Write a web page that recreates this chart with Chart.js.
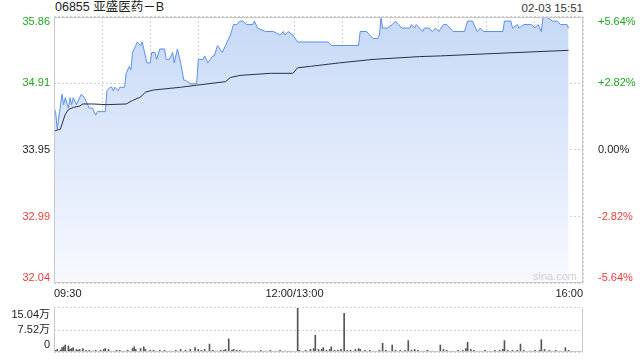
<!DOCTYPE html>
<html lang="zh">
<head>
  <meta charset="UTF-8" />
  <title>06855 亚盛医药－B 分时</title>
  <script src="https://cdn.jsdelivr.net/npm/chart.js"></script>
  <style>
    body {
      margin: 0;
      width: 640px;
      height: 360px;
      overflow: hidden;
      position: relative;
      background: #fff;
      font-family: "Liberation Sans", Arial, "Noto Sans CJK SC", sans-serif;
    }
    .title {
      position: absolute;
      left: 55px;
      top: 0;
      line-height: 15px;
      font-size: 12.5px;
      color: #222;
    }
    .stamp {
      position: absolute;
      right: 57px;
      top: 0;
      line-height: 16px;
      font-size: 11.5px;
      color: #333;
    }
    #priceBox { position: absolute; left: 0; top: 0; width: 640px; height: 300px; }
    #volBox { position: absolute; left: 0; top: 290px; width: 640px; height: 80px; }
  </style>
</head>
<body>

<div class="title">06855 亚盛医药－B</div>
<div class="stamp">02-03 15:51</div>
<div id="priceBox"><canvas id="priceChart"></canvas></div>
<div id="volBox"><canvas id="volChart"></canvas></div>

<script>
  // minutes since 09:30 (lunch break removed, 12:00/13:00 = 150, 16:00 = 330)
  const prevClose = 33.95;

  const priceMinutes = [0, 1, 2, 5, 6, 7, 9, 10, 11, 12, 14, 16, 17, 19, 21, 22, 24, 26, 27, 30,
    32, 33, 35, 36, 37, 38, 40, 41, 44, 45, 47, 48, 49, 51, 52, 54, 55, 56, 58, 60,
    61, 63, 64, 66, 69, 70, 72, 74, 75, 77, 79, 81, 82, 85, 89, 90, 93, 94, 96, 99,
    100, 102, 105, 107, 110, 112, 114, 116, 118, 120, 124, 125, 127, 132, 137, 141, 143, 144, 146, 149,
    152, 171, 173, 190, 191, 195, 197, 199, 202, 203, 204, 205, 208, 211, 213, 215, 217, 222, 223, 225,
    226, 228, 230, 231, 234, 236, 238, 240, 243, 245, 247, 249, 256, 258, 261, 263, 264, 266, 268, 280,
    281, 285, 286, 289, 290, 293, 298, 300, 302, 304, 305, 308, 311, 314, 316, 320, 321];
  const priceValues = [34.55, 34.50, 34.25, 34.75, 34.60, 34.70, 34.55, 34.70, 34.60, 34.70, 34.60, 34.70, 34.75, 34.70, 34.60, 34.55, 34.55, 34.45, 34.50, 34.50,
    34.50, 34.80, 34.85, 34.85, 34.80, 34.85, 34.80, 34.85, 34.85, 35.05, 35.15, 35.10, 35.35, 35.45, 35.50, 35.45, 35.50, 35.40, 35.20, 35.20,
    35.35, 35.35, 35.25, 35.40, 35.40, 35.25, 35.25, 35.35, 35.20, 35.40, 35.20, 34.95, 34.95, 34.90, 34.90, 35.25, 35.25, 35.30, 35.20, 35.30,
    35.30, 35.45, 35.35, 35.45, 35.60, 35.75, 35.75, 35.80, 35.80, 35.75, 35.75, 35.80, 35.70, 35.65, 35.65, 35.60, 35.65, 35.60, 35.65, 35.60,
    35.50, 35.50, 35.45, 35.45, 35.65, 35.65, 35.60, 35.55, 35.55, 35.60, 35.85, 35.70, 35.70, 35.75, 35.80, 35.75, 35.70, 35.70, 35.75, 35.70,
    35.75, 35.70, 35.65, 35.70, 35.70, 35.65, 35.70, 35.65, 35.75, 35.75, 35.70, 35.65, 35.65, 35.80, 35.80, 35.70, 35.65, 35.70, 35.65, 35.65,
    35.80, 35.80, 35.70, 35.75, 35.70, 35.75, 35.75, 35.70, 35.75, 35.65, 35.85, 35.85, 35.80, 35.80, 35.75, 35.75, 35.70];

  const avgMinutes = [0, 4, 7, 9, 12, 16, 18, 24, 33, 45, 49, 54, 57, 62, 79, 89, 107, 110, 116, 135,
    149, 152, 160, 178, 199, 228, 241, 270, 321];
  const avgValues = [34.22, 34.25, 34.46, 34.53, 34.56, 34.58, 34.61, 34.61, 34.60, 34.61, 34.66, 34.71, 34.78, 34.81, 34.85, 34.88, 34.93, 34.99, 35.02, 35.05,
    35.05, 35.13, 35.15, 35.20, 35.25, 35.29, 35.30, 35.33, 35.38];

  const volMinutes = [1, 2, 4, 5, 6, 7, 9, 10, 11, 12, 14, 15, 16, 18, 20, 22, 24, 26, 29, 31,
    32, 34, 36, 39, 41, 44, 46, 49, 50, 51, 54, 56, 57, 60, 62, 64, 66, 69, 72, 76,
    79, 82, 85, 88, 90, 92, 94, 97, 99, 101, 104, 106, 107, 109, 111, 112, 114, 116, 119, 122,
    125, 129, 132, 135, 138, 141, 144, 147, 152, 153, 157, 160, 162, 163, 165, 167, 168, 170, 172, 173,
    175, 177, 179, 181, 183, 185, 188, 190, 191, 194, 197, 200, 203, 205, 207, 211, 213, 216, 219, 221,
    223, 225, 227, 230, 233, 236, 241, 243, 245, 248, 252, 255, 257, 258, 260, 262, 266, 269, 272, 275,
    278, 280, 281, 283, 286, 289, 291, 293, 297, 300, 303, 304, 306, 309, 313, 316, 319, 321];
  const volValues = [6000, 9000, 6000, 15000, 18000, 24000, 21000, 9000, 12000, 15000, 9000, 6000, 9000, 12000, 6000, 6000, 3000, 6000, 6000, 9000,
    12000, 9000, 3000, 6000, 6000, 3000, 6000, 12000, 18000, 9000, 12000, 18000, 9000, 6000, 6000, 3000, 6000, 6000, 3000, 6000,
    9000, 6000, 9000, 15000, 9000, 6000, 9000, 27000, 6000, 3000, 6000, 6000, 9000, 45000, 6000, 9000, 6000, 6000, 3000, 3000,
    3000, 6000, 3000, 6000, 3000, 6000, 3000, 3000, 150000, 6000, 6000, 9000, 12000, 57000, 9000, 9000, 15000, 6000, 9000, 18000,
    6000, 6000, 9000, 132000, 6000, 6000, 9000, 12000, 9000, 6000, 6000, 3000, 6000, 30000, 6000, 24000, 6000, 6000, 6000, 39000,
    6000, 9000, 6000, 3000, 6000, 3000, 24000, 9000, 6000, 3000, 6000, 6000, 12000, 33000, 9000, 6000, 3000, 6000, 3000, 6000,
    6000, 9000, 39000, 6000, 6000, 6000, 27000, 6000, 3000, 6000, 6000, 42000, 9000, 6000, 6000, 3000, 15000, 6000];

  const xTicks = [0, 30, 60, 90, 120, 150, 180, 210, 240, 270, 300, 330];
  const xTickLabels = ['09:30', '', '', '', '', '12:00/13:00', '', '', '', '', '', '16:00'];
  const priceTicks = [32.04, 32.99, 33.95, 34.91, 35.86];
  const priceTickLabels = ['32.04', '32.99', '33.95', '34.91', '35.86'];
  const pctTicks = [-5.64, -2.82, 0, 2.82, 5.64];
  const pctTickLabels = ['-5.64%', '-2.82%', '0.00%', '+2.82%', '+5.64%'];
  const volTicks = [0, 75200, 150400];
  const volTickLabels = ['0', '7.52万', '15.04万'];

  Chart.defaults.font.family = '"Liberation Sans", Arial, "Noto Sans CJK SC", sans-serif';
  Chart.defaults.font.size = 11;

  const GRID = '#d2d2d2';
  const UP = '#1ea51e', DOWN = '#f23a3a', FLAT = '#222';

  function signColor(d) {
    if (d > 0.0001) return UP;
    if (d < -0.0001) return DOWN;
    return FLAT;
  }

  // push the first/last label inside the plot, like the original
  function edgeLabel(text, i, n) {
    if (i === 0) return [text, ''];
    if (i === n - 1) return ['', text];
    return text;
  }

  const framePlugin = {
    id: 'frame',
    afterDraw(chart, args, opts) {
      const a = chart.chartArea, ctx = chart.ctx;
      const L = Math.round(a.left) + 0.5, R = Math.round(a.right) - 0.5;
      const T = Math.round(a.top) + 0.5, B = Math.round(a.bottom) - 0.5;
      ctx.save();
      ctx.strokeStyle = opts.color || '#ccc';
      ctx.lineWidth = 1;
      ctx.beginPath();
      opts.sides.forEach(s => {
        if (s === 'top') { ctx.moveTo(L, T); ctx.lineTo(R, T); }
        if (s === 'bottom') { ctx.moveTo(L, B); ctx.lineTo(R, B); }
        if (s === 'left') { ctx.moveTo(L, T); ctx.lineTo(L, B); }
        if (s === 'right') { ctx.moveTo(R, T); ctx.lineTo(R, B); }
      });
      ctx.stroke();
      if (opts.mark) {
        ctx.fillStyle = '#cfcfcf';
        ctx.font = '11px "Liberation Sans", Arial, sans-serif';
        ctx.textAlign = 'right';
        ctx.textBaseline = 'middle';
        ctx.fillText(opts.mark, a.right - 6, a.bottom - 6);
      }
      ctx.restore();
    }
  };

  const priceData = priceMinutes.map((m, i) => ({ x: m, y: priceValues[i] }));
  const avgData = avgMinutes.map((m, i) => ({ x: m, y: avgValues[i] }));

  new Chart(document.getElementById('priceChart'), {
    type: 'line',
    data: {
      datasets: [
        {
          label: '均价',
          data: avgData,
          borderColor: '#2a3142',
          borderWidth: 1,
          pointRadius: 0,
          fill: false
        },
        {
          label: '价格',
          data: priceData,
          borderColor: '#5b8ff0',
          borderWidth: 1,
          pointRadius: 0,
          fill: 'start',
          backgroundColor(c) {
            const a = c.chart.chartArea;
            if (!a) return 'rgba(200,218,248,0.6)';
            const g = c.chart.ctx.createLinearGradient(0, a.top, 0, a.bottom);
            g.addColorStop(0, '#c7d9f7');
            g.addColorStop(1, '#f7f9fe');
            return g;
          }
        }
      ]
    },
    options: {
      responsive: true,
      maintainAspectRatio: false,
      animation: false,
      layout: { padding: { top: 15, left: 0, right: 0, bottom: 0 } },
      plugins: {
        legend: { display: false },
        tooltip: { enabled: false },
        frame: { sides: ['top', 'right', 'bottom', 'left'], color: '#c8c8c8', mark: 'sina.com' }
      },
      scales: {
        x: {
          type: 'linear',
          min: 0,
          max: 330,
          afterBuildTicks: s => { s.ticks = xTicks.map(v => ({ value: v })); },
          afterFit: s => { s.height = 17; },
          grid: { color: GRID, drawTicks: false },
          border: { display: false, dash: [2, 2] },
          ticks: {
            autoSkip: false,
            maxRotation: 0,
            align: 'inner',
            padding: 4,
            color: '#222',
            callback: (v, i) => xTickLabels[i]
          }
        },
        y: {
          position: 'left',
          min: priceTicks[0],
          max: priceTicks[priceTicks.length - 1],
          afterBuildTicks: s => { s.ticks = priceTicks.map(v => ({ value: v })); },
          afterFit: s => { s.width = 54; },
          grid: { color: GRID, drawTicks: false },
          border: { display: false, dash: [2, 2] },
          ticks: {
            autoSkip: false,
            padding: 4,
            font: { size: 11, lineHeight: 0.9 },
            color: c => signColor(priceTicks[c.index] - prevClose),
            callback: (v, i) => edgeLabel(priceTickLabels[i], i, priceTicks.length)
          }
        },
        y1: {
          position: 'right',
          min: pctTicks[0],
          max: pctTicks[pctTicks.length - 1],
          afterBuildTicks: s => { s.ticks = pctTicks.map(v => ({ value: v })); },
          afterFit: s => { s.width = 57; },
          grid: { display: false },
          border: { display: false },
          ticks: {
            autoSkip: false,
            padding: 7,
            font: { size: 11, lineHeight: 0.9 },
            color: c => signColor(pctTicks[c.index]),
            callback: (v, i) => edgeLabel(pctTickLabels[i], i, pctTicks.length)
          }
        }
      }
    },
    plugins: [framePlugin]
  });

  const volData = volMinutes.map((m, i) => ({ x: m, y: volValues[i] }));

  new Chart(document.getElementById('volChart'), {
    type: 'bar',
    data: {
      datasets: [{
        label: '成交量',
        data: volData,
        backgroundColor: '#555',
        barThickness: 1
      }]
    },
    options: {
      responsive: true,
      maintainAspectRatio: false,
      animation: false,
      layout: { padding: { top: 15, left: 0, right: 57, bottom: 15 } },
      plugins: {
        legend: { display: false },
        tooltip: { enabled: false },
        frame: { sides: ['right', 'bottom', 'left'], color: '#c8c8c8' }
      },
      scales: {
        x: {
          type: 'linear',
          min: 0,
          max: 330,
          offset: false,
          display: false,
          grid: { offset: false }
        },
        y: {
          min: 0,
          max: volTicks[volTicks.length - 1],
          afterBuildTicks: s => { s.ticks = volTicks.map(v => ({ value: v })); },
          afterFit: s => { s.width = 54; },
          grid: { color: GRID, drawTicks: false },
          border: { display: false, dash: [2, 2] },
          ticks: {
            autoSkip: false,
            padding: 4,
            color: '#222',
            font: { size: 11, lineHeight: 1.27 },
            callback: (v, i) => edgeLabel(volTickLabels[i], i, volTicks.length)
          }
        }
      }
    },
    plugins: [framePlugin]
  });
</script>

</body>
</html>
